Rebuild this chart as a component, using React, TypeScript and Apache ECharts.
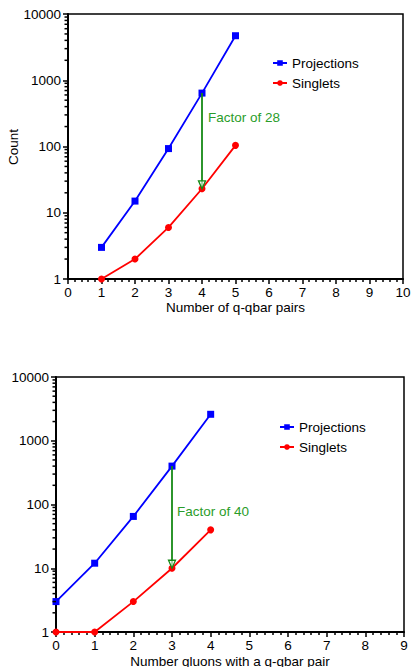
import React, { useEffect, useRef } from 'react';
import * as echarts from 'echarts';

// ---- data ----
const topPairs = [1, 2, 3, 4, 5];
const topProjections = [3, 15, 93, 640, 4700];
const topSinglets = [1, 2, 6, 23, 104];

const bottomGluons = [0, 1, 2, 3, 4];
const bottomProjections = [3, 12, 65, 400, 2600];
const bottomSinglets = [1, 1, 3, 10, 40];

// arrow: [x, from value, to value]
const topArrow = [4, 640, 23];
const bottomArrow = [3, 400, 10];
const topFactorText = 'Factor of 28';
const bottomFactorText = 'Factor of 40';
const topYName = 'Count';

const legendNames = ['Projections', 'Singlets'];
const logDecades = [1, 10, 100, 1000];
const logMinorSteps = [2, 3, 4, 5, 6, 7, 8, 9];

const FONT = '"Liberation Sans", Arial, Helvetica, sans-serif';
const FS = 13.5;
const BLUE = '#0000ff';
const RED = '#ff0000';
const GREEN_LINE = '#168a16';
const GREEN_TEXT = '#2a9d2a';

const minorValues = logDecades.flatMap((d) => logMinorSteps.map((s) => d * s));

function zip(xs: number[], ys: number[]) {
  return xs.map((x, i) => [x, ys[i]]);
}

function xAxisDef(gridIndex: number, max: number, name: string, nameGap: number) {
  return {
    type: 'value',
    gridIndex,
    min: 0,
    max,
    interval: 1,
    axisLine: { show: true, onZero: false, lineStyle: { color: '#000', width: 2 } },
    axisTick: { show: true, inside: false, length: 5, lineStyle: { color: '#000', width: 1.5 } },
    minorTick: { show: true, splitNumber: 5, length: 3, lineStyle: { color: '#000', width: 1.5 } },
    splitLine: { show: false },
    minorSplitLine: { show: false },
    axisLabel: { color: '#000', fontSize: FS, fontFamily: FONT, margin: 6 },
    name,
    nameLocation: 'middle',
    nameGap,
    nameTextStyle: { color: '#000', fontSize: FS, fontFamily: FONT },
  };
}

function yAxisDef(gridIndex: number) {
  return {
    type: 'log',
    logBase: 10,
    gridIndex,
    min: 1,
    max: 10000,
    axisLine: { show: true, onZero: false, lineStyle: { color: '#000', width: 2 } },
    axisTick: { show: true, inside: false, length: 5, lineStyle: { color: '#000', width: 1.5 } },
    splitLine: { show: false },
    axisLabel: {
      color: '#000',
      fontSize: FS,
      fontFamily: FONT,
      margin: 7,
      formatter: (v: number) => String(Math.round(v)),
    },
  };
}

function lineSeries(name: string, idx: number, data: number[][], color: string, symbol: string) {
  return {
    type: 'line',
    name,
    xAxisIndex: idx,
    yAxisIndex: idx,
    data,
    color,
    symbol,
    symbolSize: 7,
    showSymbol: true,
    lineStyle: { color, width: 1.8 },
    itemStyle: { color },
    z: 3,
  };
}

function minorTickSeries(idx: number) {
  return {
    type: 'custom',
    xAxisIndex: idx,
    yAxisIndex: idx,
    silent: true,
    clip: false,
    z: 6,
    data: minorValues.map((v) => [0, v]),
    renderItem: (_p: any, api: any) => {
      const p = api.coord([api.value(0), api.value(1)]);
      return {
        type: 'line',
        shape: { x1: p[0] - 3.5, y1: p[1], x2: p[0], y2: p[1] },
        style: { stroke: '#000', lineWidth: 1.5 },
      };
    },
  };
}

function arrowSeries(idx: number, arrow: number[]) {
  return {
    type: 'custom',
    xAxisIndex: idx,
    yAxisIndex: idx,
    silent: true,
    clip: false,
    z: 5,
    data: [arrow],
    renderItem: (_p: any, api: any) => {
      const x = api.value(0);
      const p1 = api.coord([x, api.value(1)]);
      const p2 = api.coord([x, api.value(2)]);
      return {
        type: 'group',
        children: [
          {
            type: 'line',
            shape: { x1: p1[0], y1: p1[1], x2: p2[0], y2: p2[1] - 1 },
            style: { stroke: GREEN_LINE, lineWidth: 1.8 },
          },
          {
            type: 'polygon',
            shape: {
              points: [
                [p2[0] - 3.5, p2[1] - 8],
                [p2[0] + 3.5, p2[1] - 8],
                [p2[0], p2[1]],
              ],
            },
            style: { stroke: GREEN_LINE, fill: 'rgba(255,255,255,0.6)', lineWidth: 1.3 },
          },
        ],
      };
    },
  };
}

function legendDef(left: number, top: number) {
  return {
    left,
    top,
    padding: 0,
    orient: 'vertical',
    itemGap: 6,
    itemWidth: 14,
    itemHeight: 7,
    data: legendNames,
    selectedMode: false,
    textStyle: { color: '#000', fontSize: FS, fontFamily: FONT },
  };
}

export default function App() {
  const ref = useRef<HTMLDivElement>(null);

  useEffect(() => {
    if (!ref.current) return;
    const chart = echarts.init(ref.current, undefined, { renderer: 'svg' });
    const option: any = {
      animation: false,
      backgroundColor: '#fff',
      grid: [
        { left: 68, top: 14, width: 335, height: 265, show: true, borderColor: '#000', borderWidth: 1.5, backgroundColor: 'transparent', containLabel: false, outerBoundsMode: 'none' },
        { left: 56, top: 377, width: 348, height: 255, show: true, borderColor: '#000', borderWidth: 1.5, backgroundColor: 'transparent', containLabel: false, outerBoundsMode: 'none' },
      ],
      xAxis: [
        xAxisDef(0, 10, 'Number of q-qbar pairs', 21),
        xAxisDef(1, 9, 'Number gluons with a q-qbar pair', 22),
      ],
      yAxis: [yAxisDef(0), yAxisDef(1)],
      legend: [legendDef(272, 56), legendDef(279, 420)],
      graphic: [
        {
          type: 'text',
          x: 13.5,
          y: 147,
          rotation: Math.PI / 2,
          style: { text: topYName, fill: '#000', fontSize: FS, fontFamily: FONT, align: 'center', verticalAlign: 'middle' },
        },
        {
          type: 'text',
          x: 208,
          y: 117,
          style: { text: topFactorText, fill: GREEN_TEXT, fontSize: FS, fontFamily: FONT, verticalAlign: 'middle' },
        },
        {
          type: 'text',
          x: 177,
          y: 511,
          style: { text: bottomFactorText, fill: GREEN_TEXT, fontSize: FS, fontFamily: FONT, verticalAlign: 'middle' },
        },
      ],
      series: [
        lineSeries('Projections', 0, zip(topPairs, topProjections), BLUE, 'rect'),
        lineSeries('Singlets', 0, zip(topPairs, topSinglets), RED, 'circle'),
        lineSeries('Projections', 1, zip(bottomGluons, bottomProjections), BLUE, 'rect'),
        lineSeries('Singlets', 1, zip(bottomGluons, bottomSinglets), RED, 'circle'),
        minorTickSeries(0),
        minorTickSeries(1),
        arrowSeries(0, topArrow),
        arrowSeries(1, bottomArrow),
      ],
    };
    chart.setOption(option);
    return () => chart.dispose();
  }, []);

  return (
    <div
      ref={ref}
      style={{ position: 'fixed', left: 0, top: 0, width: 411, height: 667, overflow: 'hidden' }}
    />
  );
}
